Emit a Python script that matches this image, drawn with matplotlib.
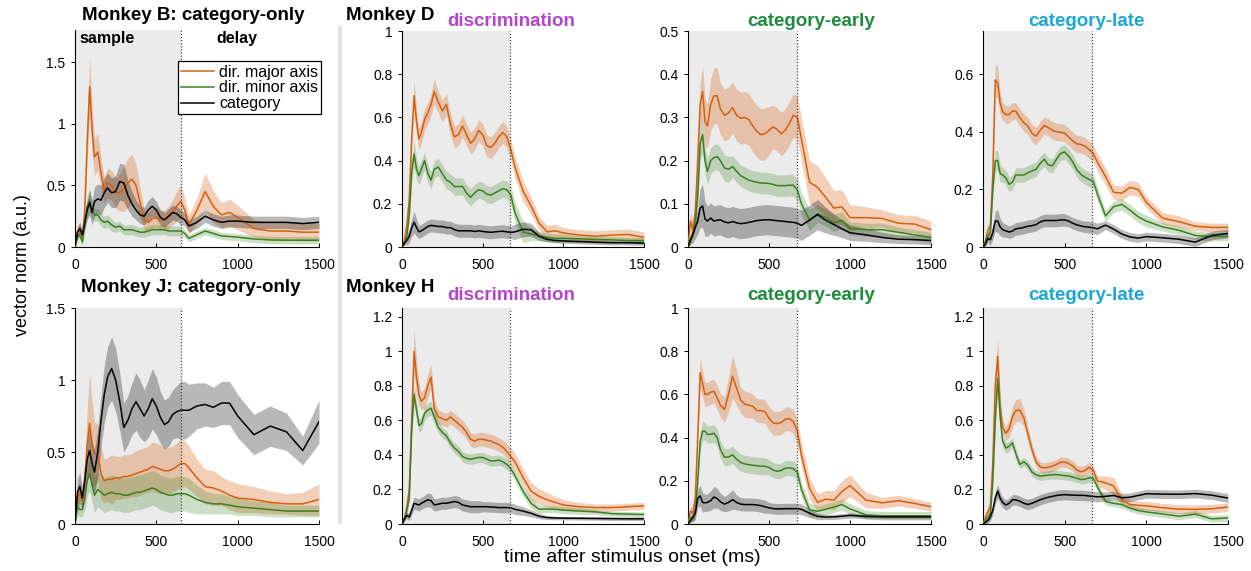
import matplotlib
matplotlib.use("Agg")
import matplotlib.pyplot as plt
from matplotlib.lines import Line2D

plt.rcParams["font.family"] = ["Liberation Sans", "DejaVu Sans"]

# time after stimulus onset (ms), shared by every panel
t_ms = [0, 15, 30, 45, 60, 75, 90, 105, 120, 140, 160, 180,
        200, 225, 250, 275, 300, 325, 350, 375, 400, 425, 450, 475,
        500, 525, 550, 575, 600, 625, 650, 675, 700,
        750, 800, 850, 900, 950, 1000, 1100, 1200, 1300, 1400, 1500]

# ---- Monkey B, category-only ----
b_major = [0, 0.12, 0.15, 0.06, 0.3, 0.85, 1.3, 0.95, 0.73, 0.77, 0.6, 0.46,
           0.52, 0.5, 0.44, 0.44, 0.47, 0.52, 0.55, 0.5, 0.36, 0.22, 0.2, 0.23,
           0.24, 0.22, 0.22, 0.24, 0.28, 0.33, 0.37, 0.3, 0.18,
           0.3, 0.45, 0.33, 0.26, 0.28, 0.24, 0.15, 0.13, 0.13, 0.12, 0.12]
b_major_err = [0, 0.04, 0.05, 0.04, 0.08, 0.15, 0.24, 0.2, 0.15, 0.15, 0.12, 0.1,
               0.12, 0.12, 0.12, 0.15, 0.18, 0.2, 0.2, 0.17, 0.12, 0.08, 0.08, 0.08,
               0.08, 0.08, 0.08, 0.09, 0.1, 0.12, 0.13, 0.1, 0.08,
               0.1, 0.15, 0.13, 0.1, 0.11, 0.1, 0.07, 0.07, 0.07, 0.07, 0.07]
b_minor = [0, 0.08, 0.1, 0.04, 0.18, 0.33, 0.38, 0.3, 0.26, 0.26, 0.22, 0.2,
           0.21, 0.18, 0.16, 0.17, 0.14, 0.14, 0.14, 0.13, 0.12, 0.12, 0.13, 0.14,
           0.14, 0.14, 0.14, 0.13, 0.13, 0.13, 0.13, 0.11, 0.07,
           0.1, 0.13, 0.11, 0.09, 0.085, 0.08, 0.065, 0.057, 0.055, 0.055, 0.055]
b_minor_err = [0, 0.02, 0.03, 0.02, 0.05, 0.08, 0.1, 0.07, 0.05, 0.05, 0.05, 0.05,
               0.05, 0.05, 0.04, 0.04, 0.04, 0.04, 0.04, 0.04, 0.04, 0.04, 0.04, 0.04,
               0.04, 0.04, 0.04, 0.04, 0.04, 0.04, 0.04, 0.03, 0.03,
               0.03, 0.03, 0.03, 0.03, 0.03, 0.03, 0.03, 0.03, 0.03, 0.03, 0.03]
b_cat = [0, 0.12, 0.15, 0.1, 0.2, 0.3, 0.36, 0.28, 0.37, 0.39, 0.38, 0.44,
         0.48, 0.44, 0.45, 0.53, 0.52, 0.42, 0.35, 0.3, 0.26, 0.25, 0.3, 0.33,
         0.3, 0.24, 0.22, 0.25, 0.28, 0.27, 0.24, 0.22, 0.17,
         0.2, 0.25, 0.22, 0.2, 0.21, 0.21, 0.2, 0.2, 0.2, 0.19, 0.2]
b_cat_err = [0, 0.05, 0.05, 0.04, 0.06, 0.08, 0.1, 0.1, 0.12, 0.12, 0.12, 0.12,
             0.12, 0.12, 0.13, 0.15, 0.15, 0.12, 0.1, 0.08, 0.07, 0.07, 0.08, 0.08,
             0.07, 0.06, 0.06, 0.06, 0.06, 0.06, 0.06, 0.05, 0.05,
             0.05, 0.05, 0.05, 0.05, 0.05, 0.05, 0.05, 0.05, 0.05, 0.05, 0.05]

# ---- Monkey J, category-only ----
j_major = [0, 0.18, 0.22, 0.16, 0.3, 0.55, 0.7, 0.55, 0.49, 0.49, 0.35, 0.3,
           0.31, 0.31, 0.32, 0.32, 0.33, 0.33, 0.34, 0.35, 0.36, 0.37, 0.38, 0.4,
           0.39, 0.38, 0.37, 0.37, 0.38, 0.4, 0.42, 0.42, 0.39,
           0.32, 0.26, 0.25, 0.23, 0.2, 0.18, 0.17, 0.15, 0.14, 0.14, 0.17]
j_major_err = [0, 0.08, 0.08, 0.06, 0.15, 0.25, 0.35, 0.3, 0.22, 0.2, 0.18, 0.15,
               0.15, 0.17, 0.15, 0.15, 0.15, 0.15, 0.15, 0.16, 0.16, 0.16, 0.16, 0.17,
               0.17, 0.17, 0.16, 0.16, 0.16, 0.16, 0.17, 0.16, 0.15,
               0.13, 0.12, 0.12, 0.1, 0.1, 0.1, 0.09, 0.08, 0.07, 0.08, 0.11]
j_minor = [0, 0.12, 0.1, 0.1, 0.18, 0.3, 0.35, 0.27, 0.2, 0.24, 0.22, 0.2,
           0.21, 0.22, 0.21, 0.21, 0.2, 0.2, 0.21, 0.22, 0.22, 0.23, 0.24, 0.25,
           0.24, 0.22, 0.21, 0.2, 0.2, 0.21, 0.21, 0.21, 0.2,
           0.17, 0.15, 0.14, 0.14, 0.13, 0.12, 0.11, 0.1, 0.09, 0.09, 0.09]
j_minor_err = [0, 0.05, 0.05, 0.05, 0.08, 0.1, 0.12, 0.12, 0.12, 0.12, 0.12, 0.12,
               0.12, 0.12, 0.12, 0.12, 0.12, 0.12, 0.12, 0.12, 0.12, 0.12, 0.12, 0.12,
               0.12, 0.12, 0.12, 0.12, 0.12, 0.12, 0.12, 0.12, 0.12,
               0.1, 0.08, 0.07, 0.07, 0.06, 0.06, 0.05, 0.05, 0.04, 0.04, 0.04]
j_cat = [0, 0.22, 0.26, 0.18, 0.3, 0.45, 0.51, 0.42, 0.36, 0.5, 0.72, 0.9,
         1.02, 1.08, 1.0, 0.85, 0.67, 0.72, 0.8, 0.85, 0.8, 0.75, 0.8, 0.87,
         0.82, 0.74, 0.69, 0.71, 0.76, 0.78, 0.79, 0.79, 0.79,
         0.82, 0.83, 0.81, 0.84, 0.84, 0.75, 0.62, 0.68, 0.64, 0.51, 0.71]
j_cat_err = [0, 0.1, 0.1, 0.08, 0.1, 0.12, 0.15, 0.15, 0.15, 0.17, 0.18, 0.2,
             0.21, 0.22, 0.22, 0.2, 0.17, 0.17, 0.18, 0.2, 0.2, 0.18, 0.2, 0.21,
             0.2, 0.18, 0.17, 0.17, 0.17, 0.18, 0.2, 0.2, 0.18,
             0.16, 0.15, 0.14, 0.15, 0.15, 0.15, 0.14, 0.14, 0.13, 0.1, 0.15]

# ---- Monkey D, discrimination ----
d_major = [0, 0.03, 0.1, 0.22, 0.5, 0.7, 0.58, 0.5, 0.53, 0.59, 0.62, 0.66,
           0.72, 0.67, 0.63, 0.66, 0.57, 0.51, 0.52, 0.56, 0.52, 0.48, 0.5, 0.54,
           0.52, 0.47, 0.46, 0.48, 0.51, 0.53, 0.51, 0.45, 0.37,
           0.26, 0.19, 0.11, 0.07, 0.075, 0.065, 0.055, 0.05, 0.055, 0.058, 0.045]
d_major_err = [0, 0.02, 0.03, 0.05, 0.06, 0.07, 0.06, 0.05, 0.05, 0.05, 0.05, 0.05,
               0.06, 0.05, 0.05, 0.05, 0.05, 0.05, 0.05, 0.05, 0.05, 0.05, 0.05, 0.05,
               0.05, 0.05, 0.05, 0.05, 0.05, 0.05, 0.05, 0.05, 0.05,
               0.05, 0.04, 0.03, 0.03, 0.03, 0.025, 0.025, 0.025, 0.025, 0.025, 0.025]
d_minor = [0, 0.02, 0.05, 0.15, 0.35, 0.43, 0.36, 0.33, 0.36, 0.4, 0.34, 0.31,
           0.36, 0.37, 0.34, 0.31, 0.3, 0.28, 0.28, 0.28, 0.25, 0.23, 0.25, 0.265,
           0.26, 0.245, 0.24, 0.25, 0.26, 0.27, 0.265, 0.24, 0.16,
           0.07, 0.06, 0.05, 0.045, 0.04, 0.04, 0.038, 0.035, 0.033, 0.03, 0.03]
d_minor_err = [0, 0.01, 0.02, 0.03, 0.05, 0.06, 0.05, 0.04, 0.04, 0.04, 0.04, 0.04,
               0.04, 0.04, 0.04, 0.04, 0.04, 0.04, 0.04, 0.04, 0.04, 0.04, 0.04, 0.04,
               0.04, 0.04, 0.04, 0.04, 0.04, 0.04, 0.04, 0.045, 0.05,
               0.05, 0.03, 0.02, 0.02, 0.02, 0.02, 0.015, 0.015, 0.015, 0.015, 0.015]
d_cat = [0, 0.02, 0.03, 0.05, 0.09, 0.115, 0.09, 0.07, 0.075, 0.085, 0.095, 0.1,
         0.098, 0.095, 0.095, 0.09, 0.09, 0.08, 0.075, 0.075, 0.075, 0.075, 0.072, 0.075,
         0.072, 0.07, 0.068, 0.07, 0.072, 0.073, 0.07, 0.068, 0.07,
         0.082, 0.08, 0.05, 0.035, 0.03, 0.028, 0.025, 0.022, 0.02, 0.02, 0.018]
d_cat_err = [0, 0.01, 0.02, 0.03, 0.04, 0.05, 0.04, 0.03, 0.03, 0.03, 0.03, 0.03,
             0.03, 0.03, 0.03, 0.03, 0.03, 0.03, 0.03, 0.03, 0.03, 0.03, 0.03, 0.03,
             0.03, 0.03, 0.03, 0.03, 0.03, 0.03, 0.03, 0.03, 0.035,
             0.035, 0.03, 0.02, 0.012, 0.01, 0.01, 0.01, 0.01, 0.01, 0.01, 0.01]

# ---- Monkey H, discrimination ----
h_major = [0, 0.03, 0.1, 0.2, 0.6, 1.0, 0.85, 0.75, 0.71, 0.73, 0.8, 0.85,
           0.67, 0.62, 0.61, 0.6, 0.62, 0.6, 0.58, 0.56, 0.53, 0.49, 0.48, 0.49,
           0.49, 0.485, 0.48, 0.47, 0.46, 0.445, 0.42, 0.39, 0.36,
           0.27, 0.19, 0.16, 0.14, 0.125, 0.11, 0.1, 0.095, 0.095, 0.1, 0.105]
h_major_err = [0, 0.02, 0.03, 0.05, 0.08, 0.13, 0.1, 0.07, 0.05, 0.06, 0.07, 0.07,
               0.05, 0.04, 0.04, 0.04, 0.04, 0.04, 0.04, 0.04, 0.04, 0.04, 0.04, 0.04,
               0.04, 0.04, 0.04, 0.04, 0.04, 0.04, 0.045, 0.05, 0.05,
               0.05, 0.05, 0.045, 0.04, 0.035, 0.03, 0.025, 0.02, 0.02, 0.02, 0.02]
h_minor = [0, 0.03, 0.08, 0.15, 0.55, 0.75, 0.66, 0.57, 0.58, 0.64, 0.66, 0.67,
           0.62, 0.56, 0.53, 0.51, 0.47, 0.44, 0.42, 0.39, 0.38, 0.375, 0.38, 0.385,
           0.385, 0.375, 0.365, 0.365, 0.37, 0.36, 0.345, 0.32, 0.28,
           0.19, 0.12, 0.085, 0.087, 0.085, 0.08, 0.075, 0.07, 0.06, 0.057, 0.055]
h_minor_err = [0, 0.01, 0.02, 0.03, 0.05, 0.06, 0.05, 0.04, 0.04, 0.04, 0.04, 0.04,
               0.04, 0.035, 0.03, 0.03, 0.03, 0.03, 0.03, 0.03, 0.03, 0.03, 0.03, 0.03,
               0.03, 0.03, 0.03, 0.03, 0.03, 0.03, 0.03, 0.03, 0.03,
               0.03, 0.03, 0.025, 0.02, 0.02, 0.02, 0.02, 0.015, 0.015, 0.015, 0.015]
h_cat = [0, 0.03, 0.05, 0.04, 0.08, 0.12, 0.115, 0.11, 0.12, 0.13, 0.14, 0.135,
         0.11, 0.115, 0.12, 0.12, 0.125, 0.13, 0.125, 0.11, 0.105, 0.1, 0.1, 0.1,
         0.1, 0.1, 0.098, 0.097, 0.095, 0.095, 0.095, 0.093, 0.085,
         0.075, 0.062, 0.045, 0.037, 0.035, 0.034, 0.033, 0.032, 0.031, 0.03, 0.03]
h_cat_err = [0, 0.01, 0.02, 0.02, 0.03, 0.035, 0.035, 0.035, 0.035, 0.035, 0.04, 0.04,
             0.035, 0.035, 0.035, 0.035, 0.035, 0.035, 0.035, 0.035, 0.035, 0.035, 0.035, 0.035,
             0.03, 0.03, 0.03, 0.03, 0.03, 0.03, 0.03, 0.03, 0.03,
             0.025, 0.02, 0.015, 0.012, 0.01, 0.01, 0.01, 0.01, 0.01, 0.01, 0.01]

# ---- Monkey D, category-early ----
de_major = [0, 0.06, 0.04, 0.08, 0.2, 0.33, 0.36, 0.29, 0.28, 0.33, 0.35, 0.35,
            0.32, 0.305, 0.31, 0.323, 0.305, 0.298, 0.3, 0.295, 0.28, 0.268, 0.26, 0.262,
            0.27, 0.278, 0.272, 0.262, 0.27, 0.285, 0.305, 0.3, 0.25,
            0.15, 0.138, 0.115, 0.09, 0.093, 0.068, 0.068, 0.066, 0.055, 0.053, 0.04]
de_major_err = [0, 0.02, 0.02, 0.03, 0.04, 0.05, 0.06, 0.055, 0.05, 0.06, 0.065, 0.065,
                0.06, 0.06, 0.06, 0.06, 0.06, 0.06, 0.06, 0.06, 0.06, 0.06, 0.06, 0.06,
                0.055, 0.05, 0.05, 0.05, 0.05, 0.05, 0.05, 0.05, 0.05,
                0.05, 0.05, 0.045, 0.04, 0.04, 0.03, 0.025, 0.02, 0.02, 0.02, 0.02]
de_minor = [0, 0.02, 0.03, 0.06, 0.12, 0.24, 0.26, 0.2, 0.175, 0.2, 0.207, 0.209,
            0.2, 0.183, 0.18, 0.186, 0.175, 0.165, 0.16, 0.155, 0.152, 0.15, 0.148, 0.148,
            0.147, 0.145, 0.142, 0.142, 0.142, 0.143, 0.143, 0.132, 0.1,
            0.063, 0.077, 0.068, 0.056, 0.062, 0.043, 0.04, 0.04, 0.034, 0.028, 0.022]
de_minor_err = [0, 0.01, 0.01, 0.02, 0.03, 0.04, 0.04, 0.03, 0.03, 0.03, 0.03, 0.03,
                0.03, 0.03, 0.03, 0.025, 0.025, 0.025, 0.025, 0.025, 0.025, 0.025, 0.025, 0.025,
                0.025, 0.025, 0.025, 0.025, 0.025, 0.025, 0.025, 0.025, 0.025,
                0.025, 0.02, 0.02, 0.02, 0.02, 0.015, 0.015, 0.015, 0.012, 0.012, 0.012]
de_cat = [0, 0.015, 0.03, 0.045, 0.06, 0.09, 0.095, 0.065, 0.06, 0.067, 0.06, 0.062,
          0.063, 0.058, 0.056, 0.059, 0.056, 0.054, 0.055, 0.057, 0.059, 0.061, 0.062, 0.063,
          0.063, 0.062, 0.061, 0.06, 0.059, 0.058, 0.057, 0.055, 0.05,
          0.062, 0.075, 0.062, 0.052, 0.042, 0.033, 0.028, 0.022, 0.018, 0.017, 0.015]
de_cat_err = [0, 0.01, 0.02, 0.025, 0.03, 0.045, 0.05, 0.04, 0.035, 0.035, 0.035, 0.035,
              0.035, 0.035, 0.035, 0.035, 0.035, 0.035, 0.035, 0.035, 0.035, 0.035, 0.035, 0.035,
              0.035, 0.035, 0.035, 0.035, 0.035, 0.035, 0.035, 0.035, 0.035,
              0.035, 0.035, 0.03, 0.025, 0.02, 0.018, 0.015, 0.012, 0.01, 0.01, 0.01]

# ---- Monkey H, category-early ----
he_major = [0, 0.06, 0.05, 0.12, 0.4, 0.7, 0.65, 0.6, 0.6, 0.61, 0.615, 0.585,
            0.55, 0.53, 0.6, 0.684, 0.63, 0.575, 0.555, 0.55, 0.545, 0.525, 0.525, 0.52,
            0.49, 0.468, 0.465, 0.47, 0.485, 0.488, 0.475, 0.43, 0.32,
            0.165, 0.1, 0.115, 0.11, 0.15, 0.178, 0.11, 0.098, 0.108, 0.095, 0.08]
he_major_err = [0, 0.02, 0.03, 0.04, 0.06, 0.07, 0.06, 0.055, 0.055, 0.055, 0.055, 0.055,
                0.055, 0.06, 0.08, 0.1, 0.08, 0.06, 0.06, 0.06, 0.055, 0.055, 0.055, 0.055,
                0.055, 0.055, 0.055, 0.055, 0.055, 0.055, 0.055, 0.055, 0.055,
                0.05, 0.04, 0.04, 0.045, 0.05, 0.05, 0.035, 0.025, 0.025, 0.022, 0.02]
he_minor = [0, 0.03, 0.03, 0.06, 0.2, 0.38, 0.43, 0.43, 0.415, 0.415, 0.42, 0.4,
            0.345, 0.31, 0.31, 0.32, 0.3, 0.285, 0.278, 0.275, 0.272, 0.27, 0.268, 0.267,
            0.262, 0.25, 0.244, 0.248, 0.258, 0.26, 0.256, 0.24, 0.16,
            0.066, 0.059, 0.068, 0.078, 0.09, 0.07, 0.042, 0.038, 0.038, 0.038, 0.038]
he_minor_err = [0, 0.01, 0.02, 0.03, 0.04, 0.045, 0.045, 0.04, 0.04, 0.04, 0.04, 0.04,
                0.04, 0.04, 0.04, 0.04, 0.04, 0.04, 0.04, 0.04, 0.04, 0.04, 0.04, 0.04,
                0.035, 0.035, 0.035, 0.035, 0.035, 0.035, 0.035, 0.035, 0.035,
                0.03, 0.025, 0.025, 0.025, 0.025, 0.025, 0.02, 0.02, 0.02, 0.02, 0.02]
he_cat = [0, 0.015, 0.03, 0.05, 0.12, 0.13, 0.1, 0.098, 0.1, 0.108, 0.125, 0.118,
          0.103, 0.092, 0.1, 0.113, 0.1, 0.092, 0.09, 0.09, 0.09, 0.088, 0.085, 0.08,
          0.075, 0.071, 0.07, 0.07, 0.071, 0.071, 0.071, 0.071, 0.068,
          0.05, 0.035, 0.032, 0.033, 0.036, 0.04, 0.035, 0.033, 0.033, 0.033, 0.033]
he_cat_err = [0, 0.01, 0.02, 0.03, 0.04, 0.05, 0.045, 0.04, 0.04, 0.045, 0.05, 0.045,
              0.04, 0.035, 0.04, 0.045, 0.035, 0.03, 0.03, 0.03, 0.03, 0.03, 0.03, 0.03,
              0.025, 0.025, 0.025, 0.025, 0.025, 0.025, 0.025, 0.025, 0.025,
              0.02, 0.015, 0.012, 0.012, 0.012, 0.012, 0.01, 0.01, 0.01, 0.01, 0.01]

# ---- Monkey D, category-late ----
dl_major = [0, 0.02, 0.06, 0.07, 0.25, 0.58, 0.57, 0.5, 0.47, 0.46, 0.46, 0.472,
            0.472, 0.45, 0.432, 0.42, 0.395, 0.385, 0.405, 0.422, 0.415, 0.405, 0.4, 0.398,
            0.395, 0.382, 0.368, 0.358, 0.356, 0.35, 0.338, 0.325, 0.295,
            0.245, 0.19, 0.187, 0.207, 0.2, 0.155, 0.1, 0.088, 0.072, 0.068, 0.068]
dl_major_err = [0, 0.01, 0.02, 0.02, 0.04, 0.055, 0.055, 0.04, 0.03, 0.03, 0.03, 0.03,
                0.03, 0.03, 0.03, 0.03, 0.03, 0.03, 0.03, 0.03, 0.03, 0.03, 0.03, 0.03,
                0.03, 0.03, 0.03, 0.03, 0.03, 0.03, 0.03, 0.03, 0.03,
                0.03, 0.025, 0.025, 0.025, 0.025, 0.02, 0.02, 0.02, 0.015, 0.015, 0.015]
dl_minor = [0, 0.02, 0.04, 0.05, 0.2, 0.3, 0.3, 0.256, 0.25, 0.24, 0.218, 0.225,
            0.25, 0.25, 0.25, 0.258, 0.264, 0.27, 0.29, 0.305, 0.285, 0.282, 0.305, 0.325,
            0.33, 0.315, 0.295, 0.268, 0.252, 0.242, 0.235, 0.228, 0.185,
            0.108, 0.14, 0.148, 0.128, 0.105, 0.09, 0.07, 0.058, 0.04, 0.036, 0.037]
dl_minor_err = [0, 0.01, 0.01, 0.02, 0.03, 0.035, 0.035, 0.03, 0.025, 0.025, 0.025, 0.025,
                0.025, 0.025, 0.025, 0.025, 0.025, 0.025, 0.025, 0.025, 0.025, 0.025, 0.025, 0.025,
                0.025, 0.025, 0.025, 0.025, 0.025, 0.025, 0.025, 0.025, 0.025,
                0.02, 0.02, 0.02, 0.02, 0.02, 0.02, 0.015, 0.015, 0.015, 0.015, 0.015]
dl_cat = [0, 0.01, 0.03, 0.025, 0.05, 0.09, 0.09, 0.07, 0.06, 0.056, 0.052, 0.055,
          0.063, 0.065, 0.068, 0.072, 0.074, 0.078, 0.087, 0.092, 0.092, 0.092, 0.092, 0.094,
          0.094, 0.09, 0.082, 0.077, 0.073, 0.07, 0.069, 0.067, 0.063,
          0.076, 0.062, 0.045, 0.035, 0.031, 0.036, 0.032, 0.027, 0.017, 0.04, 0.047]
dl_cat_err = [0, 0.01, 0.015, 0.02, 0.025, 0.035, 0.04, 0.03, 0.025, 0.022, 0.022, 0.022,
              0.022, 0.022, 0.022, 0.022, 0.022, 0.022, 0.022, 0.022, 0.022, 0.022, 0.022, 0.022,
              0.022, 0.02, 0.02, 0.02, 0.02, 0.02, 0.02, 0.02, 0.02,
              0.015, 0.015, 0.015, 0.015, 0.015, 0.015, 0.015, 0.015, 0.015, 0.015, 0.015]

# ---- Monkey H, category-late ----
hl_major = [0, 0.04, 0.07, 0.1, 0.35, 0.8, 0.97, 0.68, 0.56, 0.525, 0.55, 0.62,
            0.655, 0.66, 0.615, 0.52, 0.43, 0.36, 0.33, 0.325, 0.328, 0.335, 0.345, 0.358,
            0.358, 0.35, 0.335, 0.312, 0.302, 0.31, 0.328, 0.31, 0.25,
            0.238, 0.22, 0.14, 0.113, 0.108, 0.105, 0.094, 0.086, 0.085, 0.088, 0.098]
hl_major_err = [0, 0.02, 0.03, 0.04, 0.06, 0.09, 0.1, 0.07, 0.04, 0.04, 0.05, 0.06,
                0.065, 0.065, 0.05, 0.04, 0.035, 0.03, 0.03, 0.03, 0.03, 0.03, 0.03, 0.03,
                0.03, 0.03, 0.03, 0.03, 0.03, 0.03, 0.03, 0.03, 0.03,
                0.04, 0.05, 0.03, 0.025, 0.025, 0.025, 0.025, 0.025, 0.025, 0.025, 0.025]
hl_minor = [0, 0.02, 0.04, 0.06, 0.25, 0.6, 0.84, 0.62, 0.48, 0.44, 0.45, 0.47,
            0.41, 0.345, 0.36, 0.34, 0.3, 0.285, 0.277, 0.28, 0.283, 0.285, 0.286, 0.283,
            0.28, 0.278, 0.272, 0.265, 0.257, 0.26, 0.268, 0.265, 0.215,
            0.13, 0.12, 0.112, 0.092, 0.078, 0.07, 0.058, 0.045, 0.057, 0.03, 0.035]
hl_minor_err = [0, 0.01, 0.02, 0.03, 0.04, 0.05, 0.06, 0.05, 0.035, 0.03, 0.03, 0.03,
                0.03, 0.025, 0.025, 0.025, 0.025, 0.025, 0.025, 0.025, 0.025, 0.025, 0.025, 0.025,
                0.025, 0.025, 0.025, 0.025, 0.025, 0.025, 0.025, 0.025, 0.025,
                0.02, 0.02, 0.02, 0.02, 0.02, 0.02, 0.02, 0.02, 0.02, 0.02, 0.02]
hl_cat = [0, 0.01, 0.02, 0.04, 0.08, 0.15, 0.19, 0.15, 0.125, 0.11, 0.12, 0.14,
          0.14, 0.132, 0.12, 0.113, 0.12, 0.13, 0.14, 0.148, 0.155, 0.16, 0.165, 0.168,
          0.17, 0.168, 0.167, 0.166, 0.166, 0.165, 0.162, 0.16, 0.157,
          0.16, 0.165, 0.152, 0.155, 0.165, 0.175, 0.173, 0.172, 0.176, 0.167, 0.15]
hl_cat_err = [0, 0.01, 0.015, 0.02, 0.025, 0.035, 0.04, 0.035, 0.03, 0.03, 0.03, 0.03,
              0.03, 0.03, 0.03, 0.03, 0.03, 0.03, 0.03, 0.03, 0.03, 0.03, 0.03, 0.03,
              0.03, 0.03, 0.03, 0.03, 0.03, 0.03, 0.03, 0.03, 0.03,
              0.025, 0.025, 0.025, 0.025, 0.025, 0.025, 0.025, 0.025, 0.025, 0.025, 0.025]

x_ticks = [0, 500, 1000, 1500]
legend_labels = ["dir. major axis", "dir. minor axis", "category"]

ORANGE = "#d4600f"
GREEN = "#3b8020"
BLACK = "#000000"
SHADE = "#ebebeb"

W, H = 1251, 571


def px_box(x0, x1, y_top, y_bot):
    # pixel box -> figure fraction [left, bottom, width, height]
    return [x0 / W, 1 - y_bot / H, (x1 - x0) / W, (y_bot - y_top) / H]


def draw_panel(ax, data, ymax, yticks, sample_end):
    ax.axvspan(0, sample_end, color=SHADE, lw=0, zorder=0)
    colors = [ORANGE, GREEN, BLACK]
    alphas = [0.3, 0.25, 0.28]
    for (m, e), c, a in zip(data, colors, alphas):
        lo = [v - d for v, d in zip(m, e)]
        hi = [v + d for v, d in zip(m, e)]
        ax.fill_between(t_ms, lo, hi, color=c, alpha=a, lw=0, zorder=1)
    lines = []
    for (m, e), c in zip(data, colors):
        ln, = ax.plot(t_ms, m, color=c, lw=1.1, zorder=3)
        lines.append(ln)
    ax.axvline(sample_end, color="#444444", ls=(0, (1, 1.5)), lw=0.9, zorder=4)
    ax.set_xlim(0, 1500)
    ax.set_ylim(0, ymax)
    ax.set_xticks(x_ticks)
    ax.set_xticklabels([f"{v:g}" for v in x_ticks])
    ax.set_yticks(yticks)
    ax.set_yticklabels([f"{v:g}" for v in yticks])
    for s in ["top", "right"]:
        ax.spines[s].set_visible(False)
    for s in ["left", "bottom"]:
        ax.spines[s].set_linewidth(0.8)
    ax.tick_params(axis="y", direction="out", length=3, width=0.7, labelsize=10, pad=4)
    ax.tick_params(axis="x", direction="in", length=3, width=0.7, labelsize=10, pad=8)
    return lines


fig = plt.figure(figsize=(W / 100, H / 100), dpi=100)

cols = [(75, 319), (402, 644), (688, 931), (983, 1228)]
rows = [(31, 247), (308, 524)]

panels = [
    (0, 0, [(b_major, b_major_err), (b_minor, b_minor_err), (b_cat, b_cat_err)],
     1.76, [0, 0.5, 1, 1.5], 650),
    (1, 0, [(j_major, j_major_err), (j_minor, j_minor_err), (j_cat, j_cat_err)],
     1.5, [0, 0.5, 1, 1.5], 650),
    (0, 1, [(d_major, d_major_err), (d_minor, d_minor_err), (d_cat, d_cat_err)],
     1.0, [0, 0.2, 0.4, 0.6, 0.8, 1], 670),
    (1, 1, [(h_major, h_major_err), (h_minor, h_minor_err), (h_cat, h_cat_err)],
     1.25, [0, 0.2, 0.4, 0.6, 0.8, 1, 1.2], 670),
    (0, 2, [(de_major, de_major_err), (de_minor, de_minor_err), (de_cat, de_cat_err)],
     0.5, [0, 0.1, 0.2, 0.3, 0.4, 0.5], 670),
    (1, 2, [(he_major, he_major_err), (he_minor, he_minor_err), (he_cat, he_cat_err)],
     1.0, [0, 0.2, 0.4, 0.6, 0.8, 1], 670),
    (0, 3, [(dl_major, dl_major_err), (dl_minor, dl_minor_err), (dl_cat, dl_cat_err)],
     0.75, [0, 0.2, 0.4, 0.6], 670),
    (1, 3, [(hl_major, hl_major_err), (hl_minor, hl_minor_err), (hl_cat, hl_cat_err)],
     1.25, [0, 0.2, 0.4, 0.6, 0.8, 1, 1.2], 670),
]

axes = {}
for r, c, data, ymax, yt, s_end in panels:
    x0, x1 = cols[c]
    y_top, y_bot = rows[r]
    if r == 0 and c == 0:
        y_top = 30
    ax = fig.add_axes(px_box(x0, x1, y_top, y_bot))
    lines = draw_panel(ax, data, ymax, yt, s_end)
    axes[(r, c)] = (ax, lines)

# legend and period labels in the Monkey B panel
ax_b, lines_b = axes[(0, 0)]
leg = ax_b.legend(lines_b, legend_labels, loc="upper right",
                  bbox_to_anchor=(1.01, 0.855), borderaxespad=0,
                  fontsize=11.5, handlelength=2.1, handletextpad=0.3,
                  labelspacing=0.05, borderpad=0.2, fancybox=False,
                  framealpha=1, edgecolor="black")
leg.get_frame().set_linewidth(0.9)
ax_b.text(0.02, 0.962, "sample", transform=ax_b.transAxes, fontsize=11.5,
          fontweight="bold", ha="left", va="center")
ax_b.text(0.664, 0.962, "delay", transform=ax_b.transAxes, fontsize=11.5,
          fontweight="bold", ha="center", va="center")

# panel headings
def fy(py):
    return 1 - py / H


fig.text(193 / W, fy(16), "Monkey B: category-only", fontsize=13.5,
         fontweight="bold", ha="center", va="center")
fig.text(191 / W, fy(288), "Monkey J: category-only", fontsize=13.5,
         fontweight="bold", ha="center", va="center")
fig.text(346 / W, fy(15), "Monkey D", fontsize=13.5, fontweight="bold",
         ha="left", va="center")
fig.text(346 / W, fy(288), "Monkey H", fontsize=13.5, fontweight="bold",
         ha="left", va="center")

for py in (22, 295):
    fig.text(511 / W, fy(py), "discrimination", fontsize=13.5,
             fontweight="bold", color="#b345c9", ha="center", va="center")
    fig.text(811 / W, fy(py), "category-early", fontsize=13.5,
             fontweight="bold", color="#1e8c3c", ha="center", va="center")
    fig.text(1086 / W, fy(py), "category-late", fontsize=13.5,
             fontweight="bold", color="#1aa7d6", ha="center", va="center")

fig.text(23 / W, fy(265), "vector norm (a.u.)", fontsize=13, rotation=90,
         ha="center", va="center")
fig.text(632 / W, fy(557), "time after stimulus onset (ms)", fontsize=14,
         ha="center", va="center")

# divider between the category-only and the other monkeys
fig.add_artist(Line2D([340 / W, 340 / W], [fy(28), fy(522)],
                      color="#e4e4e4", lw=3, transform=fig.transFigure))

fig.savefig("out.png", dpi=100)
